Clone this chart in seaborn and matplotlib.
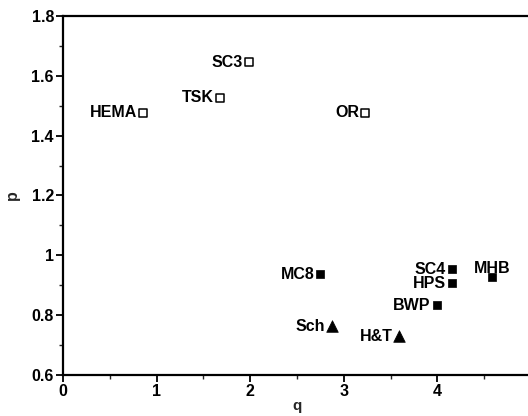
import matplotlib
matplotlib.use("Agg")
import matplotlib.pyplot as plt
from matplotlib.ticker import MultipleLocator, FuncFormatter
import seaborn as sns
import pandas as pd

# Open-square group
open_names = ["HEMA", "TSK", "SC3", "OR"]
open_q = [0.86, 1.68, 1.99, 3.23]
open_p = [1.476, 1.526, 1.646, 1.476]

# Filled-square group
filled_names = ["MC8", "SC4", "HPS", "BWP", "MHB"]
filled_q = [2.75, 4.16, 4.16, 3.99, 4.58]
filled_p = [0.937, 0.954, 0.907, 0.833, 0.927]

# Triangle group
tri_names = ["Sch", "H&T"]
tri_q = [2.87, 3.59]
tri_p = [0.763, 0.730]

sns.set_theme(style="ticks")
plt.rcParams["font.family"] = ["Liberation Sans", "DejaVu Sans"]
plt.rcParams["font.weight"] = "bold"

fig = plt.figure(figsize=(5.28, 4.16), dpi=100)
ax = fig.add_axes([0.1193, 0.0986, 0.8807 + 0.004, 0.8629])

df_open = pd.DataFrame({"q": open_q, "p": open_p, "name": open_names})
df_filled = pd.DataFrame({"q": filled_q, "p": filled_p, "name": filled_names})
df_tri = pd.DataFrame({"q": tri_q, "p": tri_p, "name": tri_names})

sns.scatterplot(data=df_open, x="q", y="p", marker="s", s=32,
                facecolor="white", edgecolor="black", linewidth=1.1, ax=ax)
sns.scatterplot(data=df_filled, x="q", y="p", marker="s", s=34,
                color="black", edgecolor="black", linewidth=0.5, ax=ax)
sns.scatterplot(data=df_tri, x="q", y="p", marker="^", s=70,
                color="black", edgecolor="black", linewidth=0.5, ax=ax)

label_kw = dict(textcoords="offset points", fontsize=11.5, fontweight="bold",
                color="black")
for df in (df_open, df_filled, df_tri):
    for q, p, name in zip(df["q"], df["p"], df["name"]):
        if name == "MHB":
            ax.annotate(name, (q, p), xytext=(0, 6.5), ha="center",
                        va="center", **label_kw)
        else:
            ax.annotate(name, (q, p), xytext=(-4.5, 0), ha="right",
                        va="center", **label_kw)

ax.set_xlim(0, 4.99)
ax.set_ylim(0.6, 1.8)
ax.xaxis.set_major_locator(MultipleLocator(1))
ax.xaxis.set_minor_locator(MultipleLocator(0.5))
ax.yaxis.set_major_locator(MultipleLocator(0.2))
ax.yaxis.set_minor_locator(MultipleLocator(0.1))
ax.yaxis.set_major_formatter(FuncFormatter(lambda v, _: f"{v:g}"))
ax.xaxis.set_major_formatter(FuncFormatter(lambda v, _: f"{v:g}"))

ax.set_xlabel("q", fontsize=11, fontweight="bold", labelpad=0)
ax.set_ylabel("p", fontsize=11.5, fontweight="bold", labelpad=8)

ax.tick_params(which="major", direction="out", length=5, width=1.3,
               labelsize=11.5, pad=1.5, colors="black")
ax.tick_params(which="minor", direction="out", length=3, width=1.0)
for lbl in ax.get_xticklabels() + ax.get_yticklabels():
    lbl.set_fontweight("bold")

for side in ("left", "bottom", "top"):
    ax.spines[side].set_linewidth(1.6)
    ax.spines[side].set_color("black")
ax.spines["right"].set_visible(False)

fig.savefig("out.png", dpi=100)
